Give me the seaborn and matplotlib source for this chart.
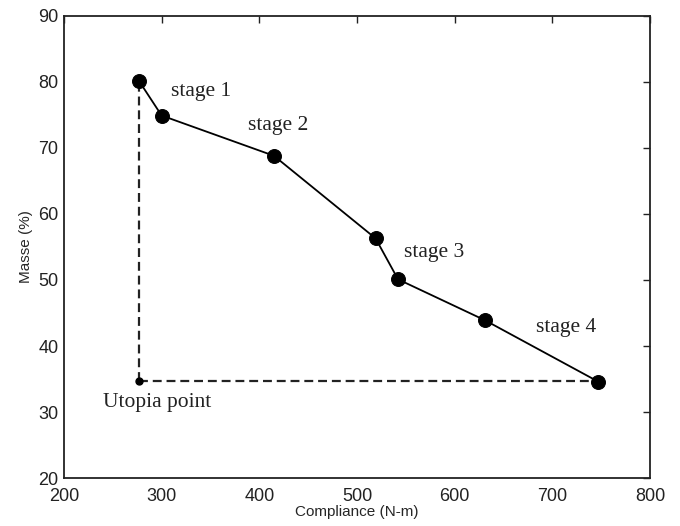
import numpy as np
import pandas as pd
import matplotlib
matplotlib.use('Agg')
import matplotlib.pyplot as plt
import seaborn as sns

# data
compliance = [277, 300, 415, 519, 542, 631, 747]
masse = [80.1, 74.9, 68.8, 56.3, 50.1, 43.9, 34.6]
utopia_x = 277
utopia_y = 34.7

stage_labels = ['stage 1', 'stage 2', 'stage 3', 'stage 4', 'Utopia point']
stage_x = [310, 388, 548, 683, 240]
stage_y = [78.6, 73.4, 54.2, 42.8, 31.4]

x_ticks = [200, 300, 400, 500, 600, 700, 800]
y_ticks = [20, 30, 40, 50, 60, 70, 80, 90]

sns.set_style('white')
plt.rcParams['font.family'] = ['Liberation Sans', 'DejaVu Sans']

df = pd.DataFrame({'Compliance': compliance, 'Masse': masse})

fig = plt.figure(figsize=(6.8, 5.26), dpi=100)
ax = fig.add_axes([0.094, 0.091, 0.862, 0.879])

# dashed lines to utopia point
ax.plot([utopia_x, utopia_x], [utopia_y, masse[0]], color='#222222', lw=1.6,
        ls=(0, (4, 2.2)), zorder=1)
ax.plot([utopia_x, compliance[-1]], [utopia_y, utopia_y], color='#222222', lw=1.6,
        ls=(0, (4, 2.2)), zorder=1)
ax.plot([utopia_x], [utopia_y], 'o', color='black', ms=5, zorder=3)

sns.lineplot(data=df, x='Compliance', y='Masse', ax=ax, sort=False, color='black',
             lw=1.3, marker='o', markersize=10, markeredgecolor='black', zorder=2)

for lab, tx, ty in zip(stage_labels, stage_x, stage_y):
    ax.text(tx, ty, lab, fontsize=15.5, family=['Liberation Serif', 'DejaVu Serif'],
            color='#222222', ha='left', va='center')

ax.set_xlim(200, 800)
ax.set_ylim(20, 90)
ax.set_xticks(x_ticks)
ax.set_yticks(y_ticks)
ax.tick_params(direction='in', length=5, width=1, top=True, right=True,
               labelsize=13, colors='#222222', pad=4)
ax.tick_params(axis='x', pad=7)
for s in ax.spines.values():
    s.set_color('#222222')
    s.set_linewidth(1.3)

ax.set_xlabel('Compliance (N-m)', fontsize=11, labelpad=0)
ax.set_ylabel('Masse (%)', fontsize=11, labelpad=4)

fig.savefig('out.png', dpi=100)
